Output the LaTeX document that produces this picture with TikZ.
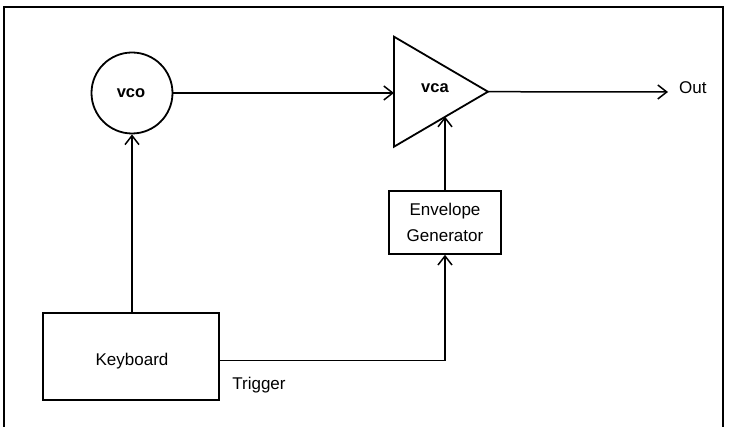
\documentclass[tikz,border=0pt]{standalone}
\usepackage{fontspec}
\setmainfont{Liberation Sans}
\usetikzlibrary{arrows.meta,calc}
\begin{document}
\begin{tikzpicture}[x=1pt,y=-1pt,
  conn/.style={line width=1.5pt,-{Straight Barb[length=9pt,width=14pt,line width=1.5pt]}},
  blockbox/.style={draw,line width=1.8pt,rectangle,inner sep=0pt,font=\fontsize{17}{26}\selectfont,align=center},
  lbl/.style={font=\fontsize{17}{26}\selectfont,inner sep=0pt},
  boldlbl/.style={font=\fontsize{16.5}{20}\selectfont\bfseries,inner sep=0pt}]
\useasboundingbox (0,0) rectangle (729,427);
% frame
\draw[line width=2.6pt] (4,430) -- (4,7) -- (723,7) -- (723,430);
% vco
\node[draw,circle,line width=1.8pt,minimum size=81pt,inner sep=0pt] (vco) at (132,93) {};
\node[boldlbl] (vcotxt) at (131,93) {vco};
% vca triangle
\coordinate (ta) at (394,36.7);
\coordinate (tb) at (394,146.7);
\coordinate (tc) at (488,91.7);
\draw[line width=1.8pt,line join=miter] (ta) -- (tc) -- (tb) -- cycle;
\node[boldlbl] (vcatxt) at (435,88) {vca};
\coordinate (vcain) at (394,93);
% envelope generator
\node[blockbox,minimum width=112pt,minimum height=63pt] (env) at (445,222.4) {Envelope\\Generator};
\coordinate (vcactl) at (env.north |- {$(tb)!0.547!(tc)$});
% keyboard
\node[blockbox,minimum width=176pt,minimum height=87pt] (kbd) at (130.6,356.3) {};
\node[lbl] (kbdtxt) at (132,361) {Keyboard};
% out
\coordinate (out) at (668,92);
\node[lbl,anchor=west] (outtxt) at (679,88) {Out};
% trigger label
\node[lbl] (trig) at (259,385) {Trigger};
% connectors
\draw[conn] (vco.east |- vcain) -- (vcain);
\draw[conn] (tc) -- (out);
\draw[conn] (vco.south |- kbd.north) -- (vco.south);
\draw[conn] (env.north) -- (vcactl);
\draw[conn] ($(kbd.east)+(0,4.4)$) -| (env.south);
\end{tikzpicture}
\end{document}
